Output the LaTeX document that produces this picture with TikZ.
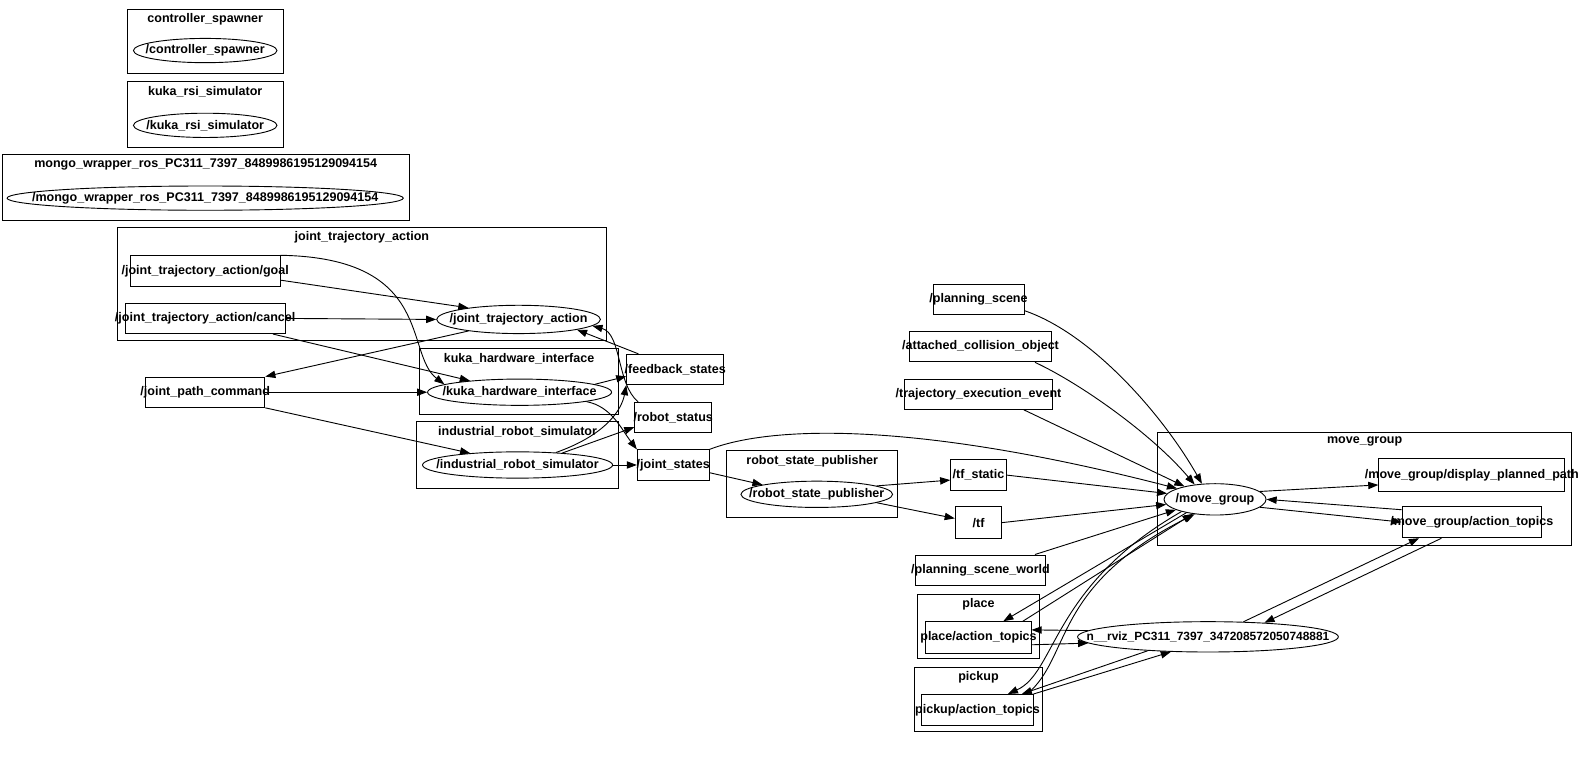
\documentclass[tikz,border=0pt]{standalone}
\usepackage{fontspec}
\setmainfont{Liberation Sans}
\usepackage{tikz}
\usetikzlibrary{shapes.geometric,arrows.meta,positioning,fit}
\newcommand{\rosfont}{\fontsize{6.2}{7.2}\selectfont\bfseries}
\tikzstyle{centred} = [execute at begin node={\hbox to 0pt\bgroup\hss},
                       execute at end node={\hss\egroup}]
\tikzstyle{topic}   = [rectangle, draw, inner sep=0pt, centred,
                       minimum height=15pt, font=\rosfont]
\tikzstyle{rosnode} = [ellipse, draw, inner sep=0pt, centred,
                       minimum height=13pt, font=\rosfont]
\tikzstyle{clust}   = [rectangle, draw, inner sep=0pt]
\tikzstyle{ctitle}  = [anchor=north, inner sep=2.2pt, font=\rosfont]

\begin{document}
\begin{tikzpicture}[x=0.5pt, y=-0.5pt, >={Triangle[length=5pt,width=3.6pt]}, line width=0.45pt]
  \path[use as bounding box, fill=white] (0,0) rectangle (1568,750);

  % clusters
  \node[clust, fit={(126,9) (280,73)}]      (ccs)    {};
  \node[clust, fit={(126,81) (280,146)}]    (ckrs)   {};
  \node[clust, fit={(2,153) (405,218)}]     (cmongo) {};
  \node[clust, fit={(116,225) (600,337)}]   (cjta)   {};
  \node[clust, fit={(415,345) (612,410)}]   (ckhi)   {};
  \node[clust, fit={(412,417) (612,483)}]   (cirs)   {};
  \node[clust, fit={(719,446) (888,512)}]   (crsp)   {};
  \node[clust, fit={(1145,428) (1555,540)}] (cmg)    {};
  \node[clust, fit={(908,588) (1028,651)}]  (cplace) {};
  \node[clust, fit={(905,660) (1031,724)}]  (cpick)  {};

  \node[ctitle] (tcs)    at (ccs.north)    {controller\_spawner};
  \node[ctitle] (tkrs)   at (ckrs.north)   {kuka\_rsi\_simulator};
  \node[ctitle] (tmongo) at (cmongo.north) {mongo\_wrapper\_ros\_PC311\_7397\_8489986195129094154};
  \node[ctitle] (tjta)   at (cjta.north)   {joint\_trajectory\_action};
  \node[ctitle] (tkhi)   at (ckhi.north)   {kuka\_hardware\_interface};
  \node[ctitle] (tirs)   at (cirs.north)   {industrial\_robot\_simulator};
  \node[ctitle] (trsp)   at (crsp.north)   {robot\_state\_publisher};
  \node[ctitle] (tmg)    at (cmg.north)    {move\_group};
  \node[ctitle] (tplace) at (cplace.north) {place};
  \node[ctitle] (tpick)  at (cpick.north)  {pickup};

  % ros nodes
  \node[rosnode, minimum width=71pt, minimum height=12pt]  (cs)  at (203,50)  {/controller\_spawner};
  \node[rosnode, minimum width=71pt, minimum height=12pt]  (krs) at (203,124) {/kuka\_rsi\_simulator};
  \node[rosnode, minimum width=196pt, minimum height=12pt] (mongo) at (203,196) {/mongo\_wrapper\_ros\_PC311\_7397\_8489986195129094154};
  \node[rosnode, minimum width=81pt, minimum height=14pt]  (jta) at (513,316) {/joint\_trajectory\_action};
  \node[rosnode, minimum width=91pt]  (khi)   at (514,388) {/kuka\_hardware\_interface};
  \node[rosnode, minimum width=94pt]  (irs)   at (512,460) {/industrial\_robot\_simulator};
  \node[rosnode, minimum width=75pt]  (rsp)   at (808,489) {/robot\_state\_publisher};
  \node[rosnode, minimum width=50.5pt, minimum height=15.5pt] (mg) at (1202,494) {/move\_group};
  \node[rosnode, minimum width=129pt, minimum height=15pt, font=\fontsize{5.9}{7}\selectfont\bfseries] (rviz) at (1195,630) {n\_\_rviz\_PC311\_7397\_347208572050748881};

  % topics
  \node[topic, minimum width=74pt]   (goal)   at (203,268)   {/joint\_trajectory\_action/goal};
  \node[topic, minimum width=79pt]   (cancel) at (203,315)   {/joint\_trajectory\_action/cancel};
  \node[topic, minimum width=59pt]   (jpc)    at (203,388)   {/joint\_path\_command};
  \node[topic, minimum width=48pt]   (fbs)    at (668,365.5) {/feedback\_states};
  \node[topic, minimum width=38pt]   (rst)    at (666,413)   {/robot\_status};
  \node[topic, minimum width=35.5pt] (js)     at (666,460)   {/joint\_states};
  \node[topic, minimum width=27.5pt, minimum height=15.5pt] (tfs) at (968,470) {/tf\_static};
  \node[topic, minimum width=23pt, minimum height=15.5pt]   (tf)  at (968,517) {/tf};
  \node[topic, minimum width=45pt]   (ps)     at (968,296)   {/planning\_scene};
  \node[topic, minimum width=70.5pt] (aco)    at (970,343)   {/attached\_collision\_object};
  \node[topic, minimum width=73pt]   (tee)    at (968,390)   {/trajectory\_execution\_event};
  \node[topic, minimum width=64pt]   (psw)    at (970,564)   {/planning\_scene\_world};
  \node[topic, minimum width=92pt, minimum height=16pt]   (dpp) at (1456,470)   {/move\_group/display\_planned\_path};
  \node[topic, minimum width=69pt, minimum height=15.5pt] (mat) at (1456,516.5) {/move\_group/action\_topics};
  \node[topic, minimum width=52pt, minimum height=15.5pt] (pat) at (968,630.5)  {place/action\_topics};
  \node[topic, minimum width=55pt, minimum height=15.5pt] (kat) at (967,702.5)  {pickup/action\_topics};

  % joint trajectory side
  \draw[->] (goal.-7) -- (jta.167);
  \draw[->] (goal.north east) .. controls (430,255) and (400,350) .. (khi.174);
  \draw[->] (cancel.east) -- (jta.west);
  \draw[->] (cancel.-13) -- (khi.167);
  \draw[->] (jta.193) -- (jpc.north east);
  \draw[->] (jpc.east) -- (khi.west);
  \draw[->] (jpc.south east) -- (irs.166);
  \draw[->] (khi.6) -- (fbs.188);
  \draw[->] (khi.-8) .. controls (605,402) and (615,425) .. (js.north west);
  \draw[->] (irs.18) .. controls (600,430) and (615,405) .. (fbs.south west);
  \draw[->] (irs.15) -- (rst.194);
  \draw[->] (irs.east) -- (js.west);
  \draw[->] (fbs.157) -- (jta.-10);
  \draw[->] (rst.156) .. controls (610,380) and (615,330) .. (jta.-5);

  % state publisher
  \draw[->] (js.-12) -- (rsp.170);
  \draw[->] (js.north east) .. controls (760,422) and (900,415) .. (mg.164);
  \draw[->] (rsp.8) -- (tfs.190);
  \draw[->] (rsp.-8) -- (tf.170);

  % move_group inputs
  \draw[->] (tfs.east) -- (mg.173);
  \draw[->] (tf.east) -- (mg.186);
  \draw[->] (ps.-14) .. controls (1080,330) and (1150,410) .. (mg.130);
  \draw[->] (aco.-16) .. controls (1070,380) and (1140,430) .. (mg.144);
  \draw[->] (tee.-19) -- (mg.157);
  \draw[->] (psw.16) -- (mg.195);
  \draw[->] (mg.10) -- (dpp.186);
  \draw[->] (mg.-10) -- (mat.west);
  \draw[->] (mat.170) -- (mg.east);

  % place / pickup / rviz
  \draw[->] (mg.205) -- (pat.33);
  \draw[->] (pat.20) -- (mg.213);
  \draw[->] (mg.200) .. controls (1040,580) and (1045,665) .. (kat.28);
  \draw[->] (kat.18) .. controls (1060,650) and (1040,580) .. (mg.216);
  \draw[->] (mat.208) -- (rviz.14);
  \draw[->] (rviz.23) -- (mat.197);
  \draw[->] (rviz.177) -- (pat.8);
  \draw[->] (pat.-8) -- (rviz.183);
  \draw[->] (kat.north east) -- (rviz.202);
  \draw[->] (rviz.193) -- (kat.20);
\end{tikzpicture}
\end{document}
